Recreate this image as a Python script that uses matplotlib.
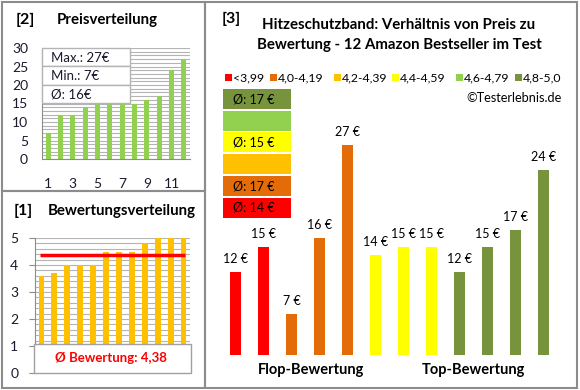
import numpy as np
import matplotlib
matplotlib.use("Agg")
import matplotlib.pyplot as plt
from matplotlib.patches import Rectangle
from matplotlib.transforms import blended_transform_factory

plt.rcParams["font.family"] = ["Lato", "DejaVu Sans"]

# data
prices_sorted = [7, 12, 12, 14, 15, 15, 15, 15, 16, 17, 24, 27]
ratings_sorted = [3.6, 3.7, 4.0, 4.0, 4.0, 4.5, 4.5, 4.5, 4.8, 5.0, 5.0, 5.0]
bar_prices = [12, 15, 7, 16, 27, 14, 15, 15, 12, 15, 17, 24]
bar_ratings = [3.6, 3.7, 4.0, 4.0, 4.0, 4.5, 4.5, 4.5, 4.8, 5.0, 5.0, 5.0]
class_labels = ["<3,99", "4,0-4,19", "4,2-4,39", "4,4-4,59", "4,6-4,79", "4,8-5,0"]
class_lower = [0, 4.0, 4.2, 4.4, 4.6, 4.8]
class_colors = ["#FF0000", "#E36C09", "#FFC000", "#FFFF00", "#92D050", "#77933C"]
group_labels = ["Flop-Bewertung", "Top-Bewertung"]

W, H = 580, 390
fig = plt.figure(figsize=(5.8, 3.9), dpi=100)


def px_axes(x0, y0, x1, y1, **kw):
    return fig.add_axes([x0 / W, 1 - y1 / H, (x1 - x0) / W, (y1 - y0) / H], **kw)


grid_c = "#b4b4b4"
frame_c = "#8c8c8c"
txt_c = "#1a1a2e"

# ---- [2] Preisverteilung
ax1 = px_axes(42, 48, 190, 159)
x = np.arange(1, 13)
ax1.bar(x, prices_sorted, width=0.42, color="#92D050", zorder=3)
ax1.set_xlim(0.5, 12.5)
ax1.set_ylim(0, 30)
ax1.set_yticks(range(0, 31, 5))
ax1.set_yticks(range(0, 31), minor=True)
ax1.set_xticks([1, 3, 5, 7, 9, 11])
ax1.grid(axis="y", which="both", color=grid_c, lw=0.8, zorder=0)
for s in ["top", "right"]:
    ax1.spines[s].set_visible(False)
for s in ["left", "bottom"]:
    ax1.spines[s].set_color("#8c8c8c")
ax1.tick_params(axis="y", which="both", length=0, pad=10, labelsize=10, labelcolor=txt_c)
ax1.tick_params(axis="x", length=0, pad=14, labelsize=10, labelcolor=txt_c)

# ---- [1] Bewertungsverteilung
ax2 = px_axes(35, 238, 190, 373)
ax2.bar(x, ratings_sorted, width=0.45, color="#FFC000", zorder=3)
mean_rating = np.mean(ratings_sorted)
ax2.hlines(mean_rating, 0.9, 12.1, color="#FF0000", lw=2.5, zorder=4)
ax2.set_xlim(0.5, 12.5)
ax2.set_ylim(0, 5)
ax2.set_yticks(range(0, 6))
ax2.set_yticks(np.arange(0, 5.01, 0.2), minor=True)
ax2.set_xticks([])
ax2.grid(axis="y", which="both", color=grid_c, lw=0.8, zorder=0)
for s in ["top", "right", "bottom"]:
    ax2.spines[s].set_visible(False)
ax2.spines["left"].set_color("#8c8c8c")
ax2.tick_params(axis="y", which="major", length=4, color="#8c8c8c", pad=8, labelsize=10, labelcolor=txt_c)
ax2.tick_params(axis="y", which="minor", length=0)

# ---- [3] price vs rating
ax3 = px_axes(221.7, 119.5, 557.2, 355)
cls = [max(i for i, lo in enumerate(class_lower) if r >= lo) for r in bar_ratings]
ax3.bar(x, bar_prices, width=0.39, color=[class_colors[c] for c in cls])
for xi, p in zip(x, bar_prices):
    ax3.annotate(f"{p} €", (xi, p), xytext=(0, 5), textcoords="offset points",
                 ha="center", va="bottom", fontsize=9, color="black")
ax3.set_xlim(0.5, 12.5)
ax3.set_ylim(2.2, 30)
ax3.axis("off")
tr = blended_transform_factory(ax3.transData, ax3.transAxes)
ax3.text(3.7, -0.062, group_labels[0], transform=tr, ha="center", va="center",
         fontsize=10.5, fontweight="bold")
ax3.text(9.5, -0.062, group_labels[1], transform=tr, ha="center", va="center",
         fontsize=10.5, fontweight="bold")

# ---- overlay: frames, titles, boxes
ov = px_axes(0, 0, W, H, zorder=10)
ov.set_xlim(0, W)
ov.set_ylim(H, 0)
ov.axis("off")
ov.patch.set_alpha(0)

for (x0, y0, x1, y1) in [(2, 2, 205, 191), (2, 191, 205, 388), (205, 2, 577, 388)]:
    ov.add_patch(Rectangle((x0, y0), x1 - x0, y1 - y0, fill=False, ec=frame_c, lw=1.5))

ov.text(16, 20, "[2]", fontsize=11.5, fontweight="bold", va="center")
ov.text(57, 20, "Preisverteilung", fontsize=10.8, fontweight="bold", va="center")
ov.text(14, 211, "[1]", fontsize=11.5, fontweight="bold", va="center")
ov.text(48, 211, "Bewertungsverteilung", fontsize=10.8, fontweight="bold", va="center")
ov.text(222, 19, "[3]", fontsize=11.5, fontweight="bold", va="center")
ov.text(399, 25, "Hitzeschutzband: Verhältnis von Preis zu",
        fontsize=10.8, fontweight="bold", ha="center", va="center")
ov.text(399, 45, "Bewertung - 12 Amazon Bestseller im Test",
        fontsize=10.8, fontweight="bold", ha="center", va="center")

# info box price
info = [f"Max.: {max(prices_sorted)}€", f"Min.: {min(prices_sorted)}€",
        f"Ø: {int(np.mean(prices_sorted) + 0.5)}€"]
for i, t in enumerate(info):
    y0 = 48 + i * 18.3
    ov.add_patch(Rectangle((42, y0), 88, 18.3, fc="white", ec="#b4b4b4", lw=1))
    ov.text(51, y0 + 9.5, t, fontsize=9.5, va="center", color=txt_c)

# rating box
ov.add_patch(Rectangle((34, 344), 157, 29, fc="white", ec="#a0a0a0", lw=1))
ov.text(111, 358, "Ø Bewertung: " + f"{mean_rating:.2f}".replace(".", ","),
        color="#FF0000", fontsize=9.5, fontweight="bold", ha="center", va="center")

# legend row
leg_x = [228, 273, 337, 395, 459, 518]
for lx, lab, col in zip(leg_x, class_labels, class_colors):
    ov.add_patch(Rectangle((lx - 3.5, 74), 7, 7, fc=col, ec="none"))
    ov.text(lx + 5, 77.5, lab, fontsize=8.8, va="center")
ov.text(562, 98, "©Testerlebnis.de", fontsize=9.2, ha="right", va="center")

# class average boxes (top: best class)
for k, c in enumerate(reversed(range(len(class_labels)))):
    y0 = 89 + k * 21.7
    ov.add_patch(Rectangle((223, y0), 68, 20, fc=class_colors[c], ec="none"))
    vals = [p for p, cc in zip(bar_prices, cls) if cc == c]
    if vals:
        ov.text(233, y0 + 10.5, f"Ø: {int(np.mean(vals) + 0.5)} €", fontsize=9, va="center")

fig.savefig("out.png", dpi=100, facecolor="white")
